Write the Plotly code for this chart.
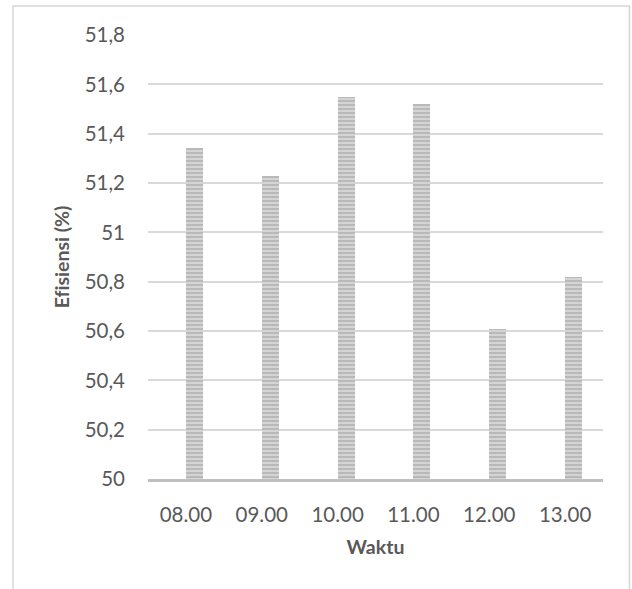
import plotly.graph_objects as go

waktu = ["08.00", "09.00", "10.00", "11.00", "12.00", "13.00"]
efisiensi = [51.34, 51.23, 51.55, 51.52, 50.61, 50.82]
y_ticks = [50, 50.2, 50.4, 50.6, 50.8, 51, 51.2, 51.4, 51.6, 51.8]
y_tick_labels = ["50", "50,2", "50,4", "50,6", "50,8", "51", "51,2", "51,4", "51,6", "51,8"]

FONT = "Lato, 'Open Sans', sans-serif"
TXT = "#595959"

fig = go.Figure()
fig.add_trace(go.Bar(
    x=waktu, y=[v - 50 for v in efisiensi], base=50,
    width=0.225, offset=0,
    marker=dict(color="#cfcfcf", line=dict(width=0),
                pattern=dict(shape="-", fgcolor="#999999", bgcolor="#d4d4d4",
                             size=4, solidity=0.45)),
    hoverinfo="skip",
))

fig.update_layout(
    width=632, height=589,
    margin=dict(l=148, r=29, t=35, b=110),
    paper_bgcolor="white", plot_bgcolor="white",
    showlegend=False,
    font=dict(family=FONT, color=TXT, size=20),
    bargap=0,
    xaxis=dict(
        type="category", showgrid=False, showline=True, linecolor="#bfbfbf",
        linewidth=3, ticks="", ticklabelstandoff=15,
        tickfont=dict(size=20.5, color=TXT),
        title=dict(text="<b>Waktu</b>", font=dict(size=19.5, color=TXT), standoff=16),
    ),
    yaxis=dict(
        range=[50, 51.8], tickvals=y_ticks, ticktext=y_tick_labels,
        showgrid=True, gridcolor="#d9d9d9", gridwidth=1.5,
        zeroline=False, showline=False, ticks="", ticklabelstandoff=22,
        tickfont=dict(size=20.5, color=TXT),
        title=dict(text="<b>Ef\u200cisiensi (%)</b>", font=dict(size=19.5, color=TXT), standoff=9),
    ),
    shapes=[dict(type="rect", xref="paper", yref="paper",
                 x0=-135/455, x1=481.5/455, y0=-0.4, y1=1 + 29/444,
                 line=dict(color="#d6d6d6", width=1.5), fillcolor="rgba(0,0,0,0)",
                 layer="below")],
)

fig.write_html("out.html", config={"displayModeBar": False},
               post_script="document.body.style.margin='0';document.body.style.overflow='hidden';")
